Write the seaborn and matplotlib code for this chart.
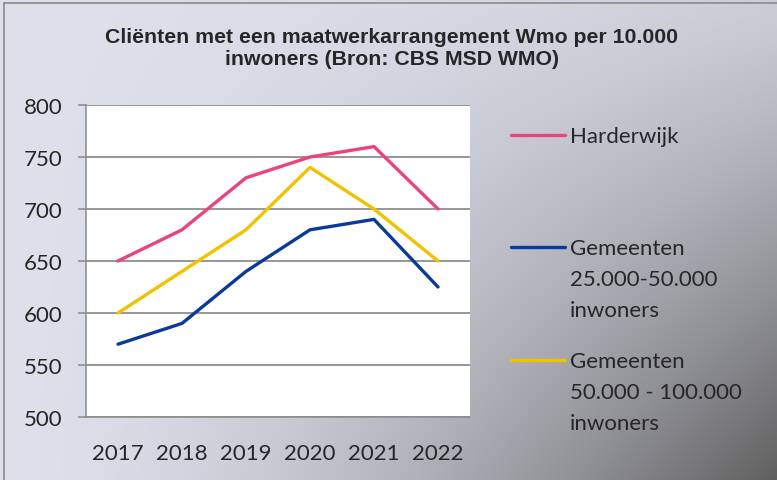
import numpy as np
import pandas as pd
import seaborn as sns
from matplotlib import pyplot as plt
from matplotlib.lines import Line2D

# data
years = ['2017', '2018', '2019', '2020', '2021', '2022']
harderwijk = [650, 680, 730, 750, 760, 700]
gem_25_50 = [570, 590, 640, 680, 690, 625]
gem_50_100 = [600, 640, 680, 740, 700, 650]
series_names = ['Harderwijk', 'Gemeenten\n25.000-50.000\ninwoners',
                'Gemeenten\n50.000 - 100.000\ninwoners']
colors = ['#EC4379', '#0A3A99', '#F2C200']

df = pd.DataFrame({
    'jaar': years * 3,
    'waarde': harderwijk + gem_25_50 + gem_50_100,
    'reeks': [series_names[0]] * 6 + [series_names[1]] * 6 + [series_names[2]] * 6,
})

sns.set_style('white')
plt.rcParams['font.family'] = ['Lato', 'DejaVu Sans']

W, H = 777, 481
fig = plt.figure(figsize=(W / 100, H / 100), dpi=100)

# gradient background
bg = fig.add_axes([0, 0, 1, 1], zorder=-1)
gx, gy = np.meshgrid(np.linspace(0, 1, 300), np.linspace(0, 1, 200))
t = gx ** 1.6 * (0.15 + 0.85 * gy ** 1.2)
light = np.array([222, 224, 236]) / 255
dark = np.array([96, 96, 96]) / 255
img = light[None, None, :] * (1 - t[..., None]) + dark[None, None, :] * t[..., None]
bg.imshow(img, extent=[0, 1, 1, 0], aspect='auto')
bg.set_xlim(0, 1)
bg.set_ylim(1, 0)
bg.axis('off')
bg.plot([4 / W, 4 / W], [1, 4 / H], color='#8a8a8a', lw=1.2)
bg.plot([4 / W, 1], [4 / H, 4 / H], color='#8a8a8a', lw=1.2)

ax = fig.add_axes([86 / W, 1 - 418 / H, 384 / W, 312 / H])
ax.set_facecolor('white')
sns.lineplot(data=df, x='jaar', y='waarde', hue='reeks', palette=colors,
             linewidth=2.4, legend=False, ax=ax, sort=False)

ax.set_xlim(-0.5, 5.5)
ax.set_ylim(500, 800)
ax.set_yticks(np.arange(500, 801, 50))
ax.yaxis.grid(True, color='#7a7a7a', linewidth=1.1)
ax.set_axisbelow(True)
ax.set_xlabel('')
ax.set_ylabel('')
for s in ['top', 'right']:
    ax.spines[s].set_visible(False)
for s in ['left', 'bottom']:
    ax.spines[s].set_color('#8a8a8a')
    ax.spines[s].set_linewidth(1.1)
ax.set_xticks(np.arange(-0.5, 6, 1), minor=True)
ax.tick_params(axis='x', which='major', length=0, pad=19, labelsize=16)
ax.tick_params(axis='x', which='minor', length=6.5, width=1.1, color='#8a8a8a', direction='out')
ax.tick_params(axis='y', length=6, width=1.1, color='#8a8a8a', direction='out', pad=11, labelsize=16)
ax.tick_params(left=True, bottom=True)

fig.text(392 / W, 1 - 49 / H,
         'Cliënten met een maatwerkarrangement Wmo per 10.000\ninwoners (Bron: CBS MSD WMO)',
         ha='center', va='center', fontsize=15.3, fontweight='bold',
         family=['Liberation Sans', 'DejaVu Sans'], linespacing=1.2)

# legend, drawn by hand to put the line next to the first text line
leg_y = [136, 248, 361]
for name, c, y in zip(series_names, colors, leg_y):
    fig.add_artist(Line2D([511 / W, 565 / W], [1 - y / H, 1 - y / H], color=c, lw=2.4))
    fig.text(570 / W, 1 - (y - 9) / H, name, ha='left', va='top', fontsize=16,
             linespacing=1.7)

fig.savefig('out.png', dpi=100)
